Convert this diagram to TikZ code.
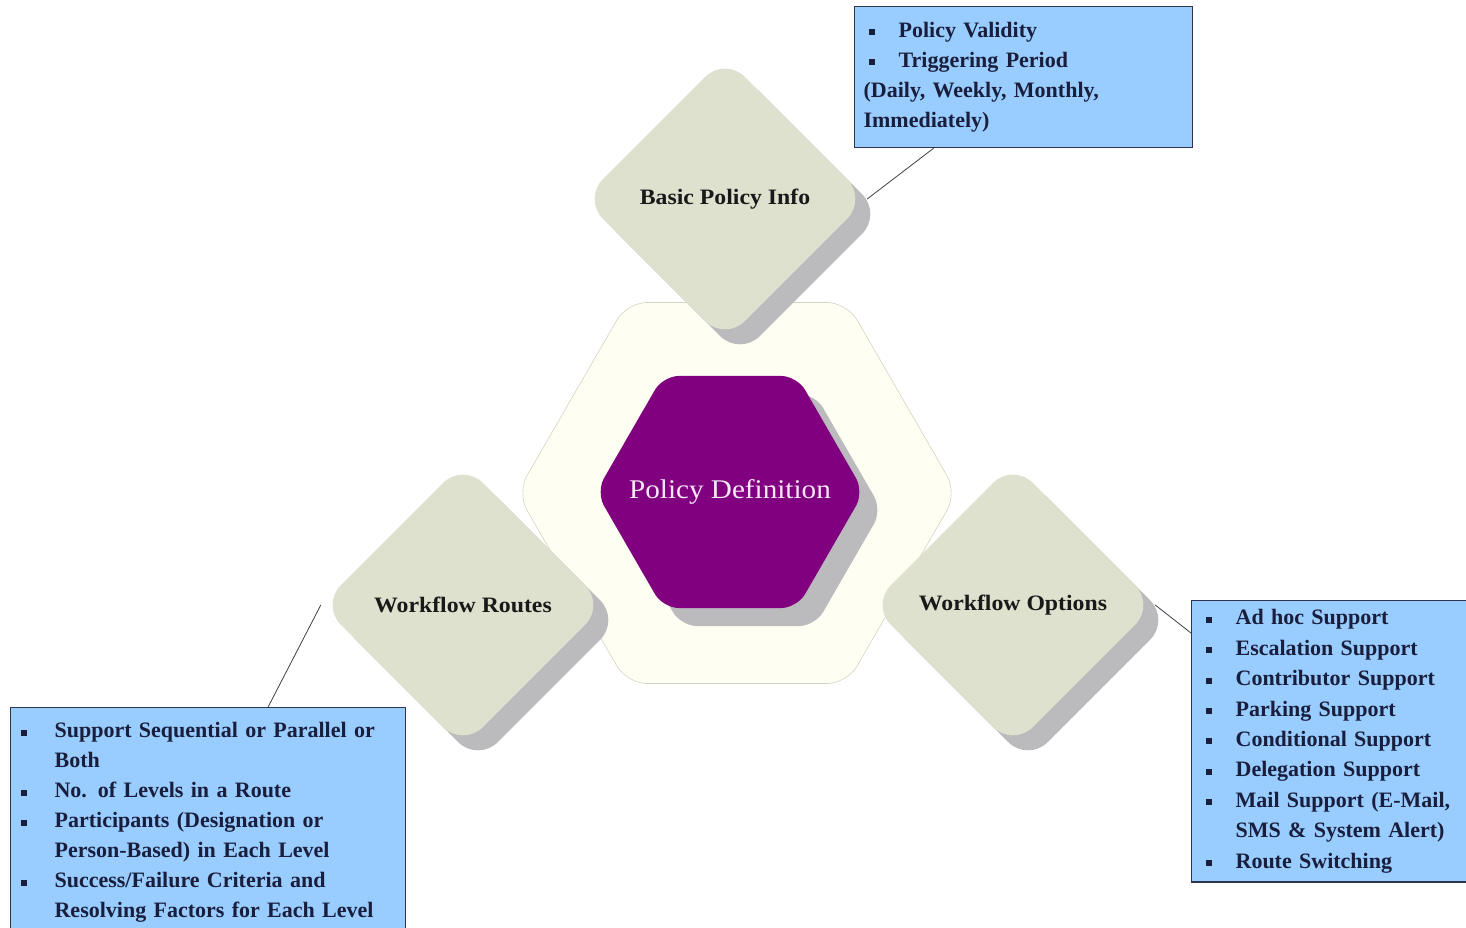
\documentclass[tikz,border=0pt]{standalone}
\usepackage{fontspec}
\setmainfont{Liberation Serif}
\newfontfamily\widefont[FakeStretch=1.08]{Liberation Serif}
\usetikzlibrary{shapes.geometric,shadows}

\definecolor{sage}{RGB}{221,225,206}
\definecolor{shadowgrey}{RGB}{187,187,190}
\definecolor{cream}{RGB}{254,254,242}
\definecolor{creamline}{RGB}{212,212,196}
\definecolor{policypurple}{RGB}{128,0,128}
\definecolor{policytext}{RGB}{248,232,248}
\definecolor{boxblue}{RGB}{153,204,255}
\definecolor{boxline}{RGB}{45,55,75}
\definecolor{boxtext}{RGB}{25,30,60}

% Bullet with hanging indent: [space before bullet]{indent of text}
\newcommand{\bul}[2][0pt]{\noindent\hangindent=#2\hangafter=1%
  \makebox[#2][l]{\hspace*{#1}\rule[2pt]{6pt}{6pt}}\ignorespaces}

\begin{document}
\begin{tikzpicture}[x=1pt, y=-1pt,
    petal/.style={diamond, aspect=1, minimum width=284pt, minimum height=284pt,
      rounded corners=28pt, fill=sage, text=black!90,
      font=\fontsize{22}{26}\widefont\bfseries,
      drop shadow={fill=shadowgrey, opacity=1, shadow xshift=15pt, shadow yshift=-15pt}},
    notebox/.style={draw=boxline, line width=1.2pt, fill=boxblue, text=boxtext,
      align=left, anchor=north west, font=\fontsize{22}{30}\selectfont\bfseries},
    connector/.style={draw=black!75, line width=0.8pt}]

  % Definitions
  \def\rout{220}   % Circumradius of outer hexagon
  \def\rin{134}    % Circumradius of inner hexagon

  \coordinate (C) at (737,493);   % Centre of outer hexagon
  \coordinate (P) at (730,492);   % Centre of purple hexagon

  \clip (0,0) rectangle (1466,928);

  % Hexagons
  \node (ring) at (C) [regular polygon, regular polygon sides=6, minimum size=2*\rout pt,
    inner sep=0pt, rounded corners=20pt, fill=cream, draw=creamline, line width=0.6pt] {};
  \node (core) at (P) [regular polygon, regular polygon sides=6, minimum size=2*\rin pt,
    inner sep=0pt, rounded corners=16pt, fill=policypurple,
    drop shadow={fill=shadowgrey, opacity=1, shadow xshift=18pt, shadow yshift=-18pt}] {};
  \node (coretitle) at (core) [text=policytext, font=\fontsize{27}{30}\widefont]
    {Policy Definition};

  % Diamonds
  \node (basic)   at (725,199)  [petal] {Basic Policy Info};
  \node (routes)  at (463,605)  [petal] {Workflow Routes};
  \node (options) at (1013,605) [petal] {Workflow Options};

  % Note boxes
  \node (infonote) at (854,6) [notebox, text width=320pt, inner xsep=9pt, minimum height=141pt] {%
    \bul[5pt]{35pt}Policy Validity\par
    \bul[5pt]{35pt}Triggering Period\par
    \noindent(Daily, Weekly, Monthly,\newline Immediately)\par};

  \node (routenote) at (10,707) [notebox, text width=375pt, inner xsep=10pt, inner ysep=15pt] {%
    \bul{34pt}Support Sequential or Parallel or\newline Both\par
    \bul{34pt}No. of Levels in a Route\par
    \bul{34pt}Participants (Designation or\newline Person-Based) in Each Level\par
    \bul{34pt}Success/Failure Criteria and\newline Resolving Factors for Each Level\par};

  \node (optionnote) at (1191,600) [notebox, text width=280pt, inner xsep=10pt, inner ysep=9pt,
    font=\fontsize{22}{30.4}\selectfont\bfseries] {%
    \bul[4pt]{34pt}Ad hoc Support\par
    \bul[4pt]{34pt}Escalation Support\par
    \bul[4pt]{34pt}Contributor Support\par
    \bul[4pt]{34pt}Parking Support\par
    \bul[4pt]{34pt}Conditional Support\par
    \bul[4pt]{34pt}Delegation Support\par
    \bul[4pt]{34pt}Mail Support (E-Mail,\newline SMS \& System Alert)\par
    \bul[4pt]{34pt}Route Switching\par};

  % Connectors
  \draw [connector] (basic.east) -- ([xshift=-90pt]infonote.south);
  \draw [connector] (routes.west) -- ([xshift=60pt]routenote.north);
  \draw [connector] (options.east) -- ([yshift=-33pt]optionnote.north west);

\end{tikzpicture}
\end{document}
